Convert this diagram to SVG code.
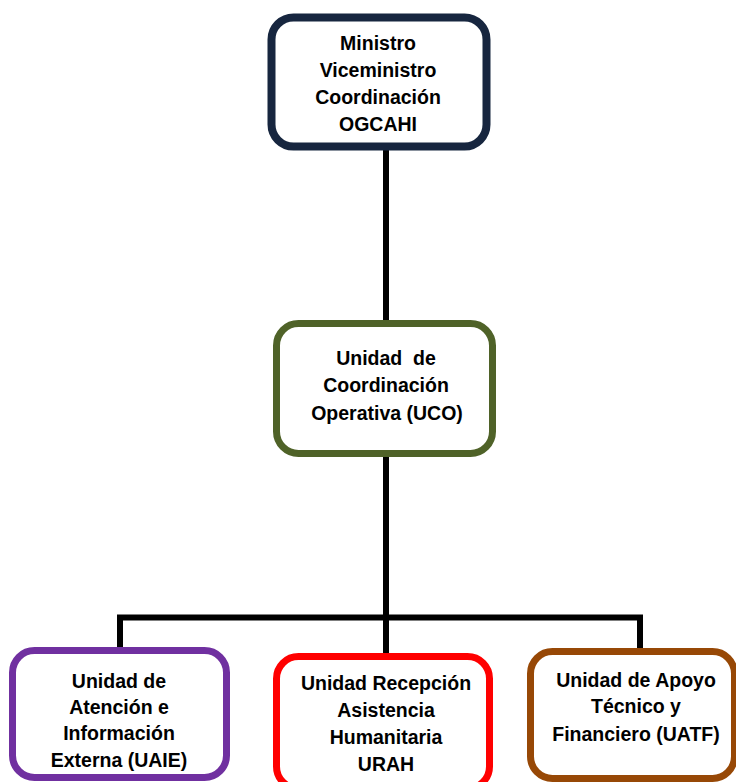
<svg xmlns="http://www.w3.org/2000/svg" width="736" height="782" viewBox="0 0 736 782">
<style>
.box{fill:#ffffff;}
.t{font-family:"Liberation Sans",Arial,sans-serif;font-weight:bold;font-size:19.5px;fill:#000;text-anchor:middle;}
.c{stroke:#000;stroke-width:6;fill:none;}
</style>
<rect width="736" height="782" fill="#ffffff"/>
<g id="connectors">
<line class="c" x1="386" y1="148" x2="386" y2="322"/>
<line class="c" x1="386" y1="455" x2="386" y2="656"/>
<polyline class="c" points="120,652 120,617.5 640,617.5 640,652"/>
</g>
<g id="n-ministro">
<rect class="box" x="271.5" y="17.5" width="215" height="129" rx="22" stroke="#17263f" stroke-width="8"/>
<text class="t" x="378" y="50">Ministro</text>
<text class="t" x="378" y="77">Viceministro</text>
<text class="t" x="378" y="104">Coordinación</text>
<text class="t" x="378" y="131">OGCAHI</text>
</g>
<g id="n-uco">
<rect class="box" x="276.5" y="323.5" width="216" height="130" rx="22" stroke="#4f6228" stroke-width="7"/>
<text class="t" x="386" y="365" xml:space="preserve">Unidad  de</text>
<text class="t" x="386" y="392">Coordinación</text>
<text class="t" x="387" y="420">Operativa (UCO)</text>
</g>
<g id="n-uaie">
<rect class="box" x="12.5" y="650.5" width="214" height="127" rx="22" stroke="#7030a0" stroke-width="7"/>
<text class="t" x="119" y="688">Unidad de</text>
<text class="t" x="119" y="714">Atención e</text>
<text class="t" x="119" y="740">Información</text>
<text class="t" x="119" y="767">Externa (UAIE)</text>
</g>
<g id="n-urah">
<rect class="box" x="276.5" y="656.5" width="213" height="132" rx="22" stroke="#ff0000" stroke-width="7"/>
<text class="t" x="386" y="690">Unidad Recepción</text>
<text class="t" x="386" y="717">Asistencia</text>
<text class="t" x="386" y="744">Humanitaria</text>
<text class="t" x="386" y="771">URAH</text>
</g>
<g id="n-uatf">
<rect class="box" x="530.5" y="651.5" width="204" height="127" rx="22" stroke="#974806" stroke-width="7"/>
<text class="t" x="636" y="687">Unidad de Apoyo</text>
<text class="t" x="636" y="713">Técnico y</text>
<text class="t" x="636" y="741">Financiero (UATF)</text>
</g>
</svg>
